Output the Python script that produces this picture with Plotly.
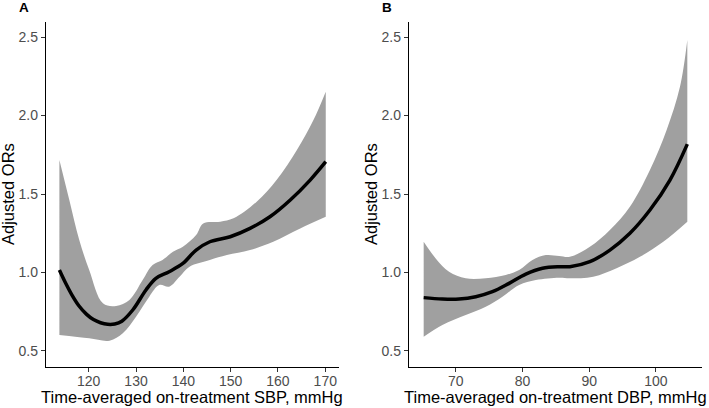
import plotly.graph_objects as go
from plotly.subplots import make_subplots

# ── Panel A: SBP ────────────────────────────────────────────
sbp_x    = [113.8, 115.0, 116.5, 118.0, 119.5, 121.0, 122.5, 124.0, 125.5, 127.0, 129.3, 132.1,
            134.2, 137.0, 139.9, 142.7, 145.6, 149.9, 154.1, 158.3, 162.6, 166.8, 170.1]
sbp_or   = [1.016, 0.940, 0.855, 0.785, 0.735, 0.700, 0.680, 0.670, 0.672, 0.690, 0.761, 0.889,
            0.963, 1.005, 1.058, 1.143, 1.196, 1.228, 1.281, 1.355, 1.462, 1.589, 1.706]
sbp_up_x = [113.8, 115.9, 118.0, 120.1, 123.0, 125.8, 128.6, 131.4, 133.5, 135.6, 137.8, 139.9,
            142.7, 144.2, 147.8, 150.6, 155.5, 159.7, 164.0, 167.5, 170.1]
sbp_up   = [1.717, 1.462, 1.207, 1.016, 0.804, 0.787, 0.825, 0.952, 1.048, 1.080, 1.132, 1.164,
            1.239, 1.313, 1.324, 1.345, 1.451, 1.589, 1.780, 1.971, 2.152]
sbp_lo_x = [113.8, 120.1, 124.4, 127.2, 130.0, 132.8, 134.9, 137.0, 139.2, 141.3, 145.6, 149.2,
            154.1, 159.0, 164.7, 170.1]
sbp_lo   = [0.602, 0.581, 0.566, 0.613, 0.718, 0.846, 0.920, 0.910, 0.973, 1.037, 1.080, 1.111,
            1.143, 1.196, 1.281, 1.355]

# ── Panel B: DBP ────────────────────────────────────────────
dbp_x    = [65.2, 68.0, 70.5, 73.0, 75.5, 78.0, 80.5, 83.0, 85.5, 87.1, 90.1, 93.1, 96.1, 99.1,
            102.1, 104.7]
dbp_or   = [0.840, 0.831, 0.831, 0.846, 0.878, 0.931, 0.990, 1.027, 1.037, 1.037, 1.069, 1.143,
            1.250, 1.398, 1.589, 1.818]
dbp_up_x = [65.2, 67.0, 69.0, 71.5, 74.5, 77.5, 79.5, 81.5, 83.5, 85.5, 87.1, 90.1, 93.1, 96.1,
            99.1, 101.6, 103.6, 104.7]
dbp_up   = [1.196, 1.090, 1.005, 0.963, 0.963, 0.984, 1.016, 1.080, 1.111, 1.105, 1.100, 1.164,
            1.271, 1.419, 1.653, 1.908, 2.183, 2.481]
dbp_lo_x = [65.2, 68.0, 71.5, 74.5, 77.0, 79.5, 82.0, 85.5, 87.1, 90.6, 94.1, 97.6, 101.1, 104.7]
dbp_lo   = [0.591, 0.666, 0.729, 0.782, 0.846, 0.920, 0.952, 0.967, 0.963, 0.973, 1.027, 1.100,
            1.196, 1.324]

panels = [
    ("A", sbp_x, sbp_or, sbp_up_x, sbp_up, sbp_lo_x, sbp_lo,
     "Time-averaged on-treatment SBP, mmHg", [110.97, 172.9], [120, 130, 140, 150, 160, 170]),
    ("B", dbp_x, dbp_or, dbp_up_x, dbp_up, dbp_lo_x, dbp_lo,
     "Time-averaged on-treatment DBP, mmHg", [63.0, 106.9], [70, 80, 90, 100]),
]
y_ticks = [0.5, 1.0, 1.5, 2.0, 2.5]

BAND = "#a0a0a0"
FONT = "Liberation Sans, Arial, sans-serif"
W, H = 709, 408

fig = make_subplots(rows=1, cols=2)

x_domains = [[46 / W, 339 / W], [409 / W, 702 / W]]
y_domain = [41 / H, 386 / H]

for i, (lab, lx, ly, ux, uy, bx, by, xtitle, xr, xt) in enumerate(panels, start=1):
    # confidence band: upper edge, then lower edge filled up to it
    fig.add_trace(go.Scatter(x=ux, y=uy, mode="lines", line=dict(width=0, color=BAND, shape="spline"),
                             hoverinfo="skip", showlegend=False), row=1, col=i)
    fig.add_trace(go.Scatter(x=bx, y=by, mode="lines", line=dict(width=0, color=BAND, shape="spline"),
                             fill="tonexty", fillcolor=BAND, hoverinfo="skip", showlegend=False),
                  row=1, col=i)
    fig.add_trace(go.Scatter(x=lx, y=ly, mode="lines",
                             line=dict(width=3.5, color="black", shape="spline", smoothing=1),
                             showlegend=False), row=1, col=i)

    fig.update_xaxes(range=xr, tickvals=xt, domain=x_domains[i - 1], showgrid=False, zeroline=False,
                     showline=True, linecolor="black", linewidth=1.3, ticks="outside", ticklen=4,
                     tickcolor="#333333", tickwidth=1.1, ticklabelstandoff=-3,
                     tickfont=dict(family=FONT, size=14, color="#4d4d4d"), row=1, col=i)
    fig.update_yaxes(range=[0.398, 2.596], tickvals=y_ticks, ticktext=[f"{v:.1f}" for v in y_ticks],
                     domain=y_domain, showgrid=False, zeroline=False,
                     showline=True, linecolor="black", linewidth=1.3, ticks="outside", ticklen=4,
                     tickcolor="#333333", tickwidth=1.1,
                     tickfont=dict(family=FONT, size=14, color="#4d4d4d"), row=1, col=i)

    x0, x1 = x_domains[i - 1]
    # x-axis title
    fig.add_annotation(text=xtitle, xref="paper", yref="paper", x=(x0 + x1) / 2, y=0,
                       showarrow=False, font=dict(family=FONT, size=16.5, color="black"),
                       xanchor="center", yanchor="bottom")
    # y-axis title
    fig.add_annotation(text="Adjusted ORs", xref="paper", yref="paper", x=x0 - 38 / W, y=214 / H,
                       textangle=-90, showarrow=False, font=dict(family=FONT, size=16.5, color="black"),
                       xanchor="center", yanchor="middle")
    # panel tag
    fig.add_annotation(text=f"<b>{lab}</b>", xref="paper", yref="paper", x=x0 - 22 / W, y=401 / H,
                       showarrow=False, font=dict(family=FONT, size=13.5, color="black"),
                       xanchor="center", yanchor="middle")

fig.update_layout(width=W, height=H, margin=dict(l=0, r=0, t=0, b=0),
                  paper_bgcolor="white", plot_bgcolor="white")

# the page body has a default 8px margin; drop it so the figure fills the window
fig.write_html("out.html", config={"displayModeBar": False},
               post_script="document.body.style.margin='0';")
